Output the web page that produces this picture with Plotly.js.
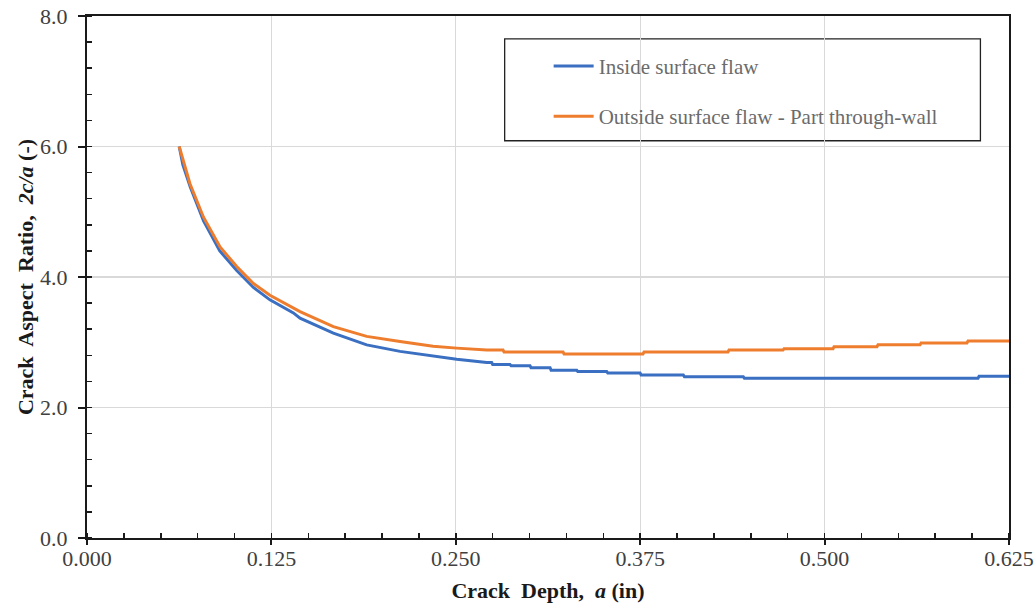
<!DOCTYPE html>
<html>
<head>
<meta charset="utf-8">
<script src="https://cdn.plot.ly/plotly-3.0.1.min.js"></script>
<style>html,body{margin:0;padding:0;background:#fff;}#chart{width:1036px;height:608px;}</style>
</head>
<body>
<div id="chart"></div>
<script>
const insideX = [0.0625,0.0650,0.0700,0.0790,0.0900,0.1015,0.1128,0.1240,0.1399,0.1444,0.1670,0.1896,0.2122,0.2346,0.2506,0.2710,0.2743,0.2750,0.2867,0.2875,0.3003,0.3010,0.3139,0.3146,0.3320,0.3327,0.3523,0.3530,0.3749,0.3756,0.4042,0.4050,0.4449,0.4456,0.6040,0.6047,0.6250];
const insideY = [6.00,5.72,5.38,4.86,4.40,4.10,3.84,3.65,3.45,3.37,3.14,2.96,2.86,2.79,2.74,2.69,2.69,2.66,2.66,2.64,2.64,2.61,2.61,2.57,2.57,2.55,2.55,2.53,2.53,2.50,2.50,2.47,2.47,2.45,2.45,2.48,2.48];
const outsideX = [0.0625,0.0698,0.0789,0.0902,0.1015,0.1128,0.1240,0.1399,0.1444,0.1670,0.1896,0.2122,0.2346,0.2506,0.2710,0.2820,0.2827,0.3227,0.3234,0.3769,0.3776,0.4345,0.4352,0.4718,0.4725,0.5057,0.5064,0.5355,0.5362,0.5647,0.5654,0.5965,0.5972,0.6250];
const outsideY = [6.00,5.43,4.92,4.46,4.16,3.90,3.72,3.52,3.47,3.24,3.09,3.01,2.94,2.91,2.88,2.88,2.85,2.85,2.82,2.82,2.85,2.85,2.88,2.88,2.90,2.90,2.93,2.93,2.96,2.96,2.99,2.99,3.02,3.02];
const seriesNames = ["Inside surface flaw", "Outside surface flaw - Part through-wall"];
const xTickVals = [0, 0.125, 0.25, 0.375, 0.5, 0.625];
const xTickText = ["0.000", "0.125", "0.250", "0.375", "0.500", "0.625"];
const yTickVals = [0, 2, 4, 6, 8];
const yTickText = ["0.0", "2.0", "4.0", "6.0", "8.0"];

const traces = [
  {x: insideX, y: insideY, name: seriesNames[0], type: 'scatter', mode: 'lines',
   legendgroup: 'a', line: {color: '#3a6fc1', width: 3}},
  {x: outsideX, y: outsideY, name: seriesNames[1], type: 'scatter', mode: 'lines',
   legendgroup: 'b', line: {color: '#ee7d2e', width: 3}}
];

const serif = 'Liberation Serif, Times New Roman, serif';
const axisFont = {family: serif, size: 22, color: '#404040'};
const titleFont = {family: serif, size: 22, color: '#1a1a1a'};

const layout = {
  width: 1036, height: 608,
  margin: {l: 87, r: 27, t: 16, b: 70, pad: 0},
  paper_bgcolor: '#ffffff', plot_bgcolor: '#ffffff',
  showlegend: true,
  legend: {x: 0.5007, y: 0.943, xanchor: 'left', yanchor: 'top',
           font: {family: serif, size: 21, color: '#6b6b6b'},
           bgcolor: 'rgba(0,0,0,0)', borderwidth: 0, tracegroupgap: 20, itemwidth: 40},
  shapes: [{type: 'rect', xref: 'paper', yref: 'paper', x0: 0.453, x1: 0.969, y0: 0.761, y1: 0.956,
            line: {color: '#222222', width: 1.3}, fillcolor: 'rgba(255,255,255,1)', layer: 'below'}],
  xaxis: {
    range: [0, 0.625], tickvals: xTickVals, ticktext: xTickText,
    showgrid: true, gridcolor: '#d9d9d9', gridwidth: 1.3, zeroline: false,
    showline: true, linecolor: '#1a1a1a', linewidth: 2, mirror: true,
    ticks: 'outside', ticklen: 5, tickwidth: 2, tickcolor: '#1a1a1a',
    tickfont: axisFont, ticklabelstandoff: -5,
    minor: {dtick: 0.025, tick0: 0, ticks: 'inside', ticklen: 5, tickwidth: 1.5, tickcolor: '#1a1a1a', showgrid: false},
    title: {text: '<b>Crack  Depth,  <i>a</i> (in)</b>', font: titleFont, standoff: 12}
  },
  yaxis: {
    range: [0, 8], tickvals: yTickVals, ticktext: yTickText,
    showgrid: true, gridcolor: '#d9d9d9', gridwidth: 1.3, zeroline: false,
    showline: true, linecolor: '#1a1a1a', linewidth: 2, mirror: true,
    ticks: 'outside', ticklen: 7, tickwidth: 2, tickcolor: '#1a1a1a',
    tickfont: axisFont, ticklabelstandoff: 6,
    minor: {dtick: 0.4, tick0: 0, ticks: 'inside', ticklen: 5, tickwidth: 1.5, tickcolor: '#1a1a1a', showgrid: false},
    title: {text: '<b>Crack  Aspect  Ratio,  <i>2c/a</i> (-)</b>', font: titleFont, standoff: 0}
  }
};

Plotly.newPlot('chart', traces, layout, {displayModeBar: false, staticPlot: true});
</script>
</body>
</html>
